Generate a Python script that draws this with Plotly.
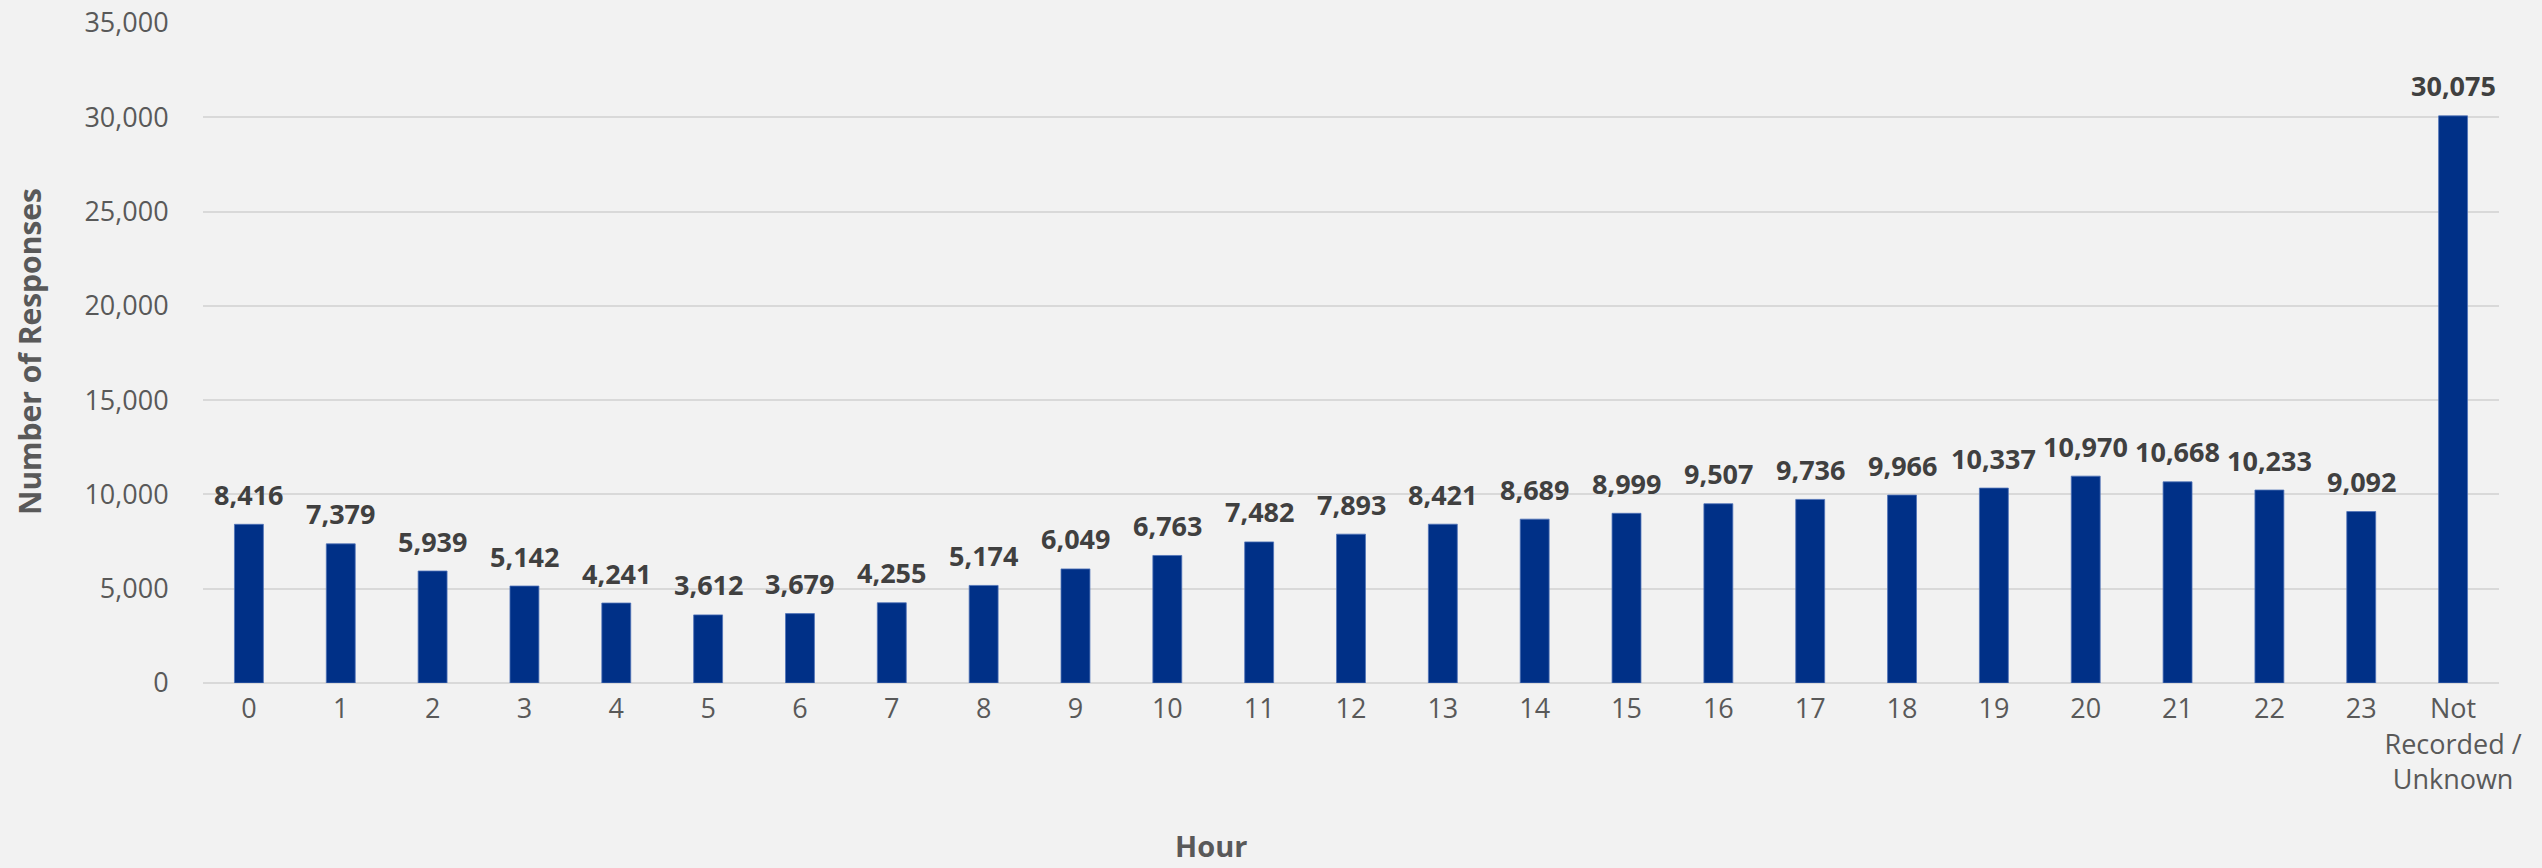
import plotly.graph_objects as go

# Hourly response counts
hours = [str(h) for h in range(24)] + ["Not<br>Recorded /<br>Unknown"]
responses = [8416, 7379, 5939, 5142, 4241, 3612, 3679, 4255, 5174, 6049,
             6763, 7482, 7893, 8421, 8689, 8999, 9507, 9736, 9966, 10337,
             10970, 10668, 10233, 9092, 30075]
y_ticks = [0, 5000, 10000, 15000, 20000, 25000, 30000, 35000]

W, H = 2542, 868
ML, MR, MT, MB = 203, 43, 23, 185
FONT = "Open Sans"
BAR = "#003087"
BG = "#f2f2f2"

fig = go.Figure(go.Bar(
    x=hours,
    y=responses,
    marker=dict(color=BAR, line=dict(color="#4f72b8", width=0.8)),
    hoverinfo="skip",
))

# Value labels above each bar
for cat, val in zip(hours, responses):
    fig.add_annotation(
        x=cat, y=val, xref="x", yref="y",
        text=f"{val:,}", showarrow=False,
        xanchor="center", yanchor="middle", yshift=30,
        font=dict(family=FONT, size=27, color="#404040", weight="bold"),
    )

fig.update_layout(
    width=W, height=H,
    margin=dict(l=ML, r=MR, t=MT, b=MB, autoexpand=False),
    paper_bgcolor=BG, plot_bgcolor=BG,
    bargap=0.685,
    showlegend=False,
    font=dict(family=FONT, size=27, color="#595959"),
)

fig.update_xaxes(
    type="category",
    automargin=False,
    tickfont=dict(family=FONT, size=27, color="#595959"),
    showgrid=False,
    showline=False,
    ticks="outside", ticklen=2, tickcolor="rgba(0,0,0,0)",
)

fig.update_yaxes(
    range=[0, 35000],
    automargin=False,
    tickvals=y_ticks,
    tickformat=",",
    showgrid=True, gridcolor="#d9d9d9", gridwidth=1.5,
    zeroline=True, zerolinecolor="#d9d9d9", zerolinewidth=1.5,
    showline=False,
    ticks="outside", ticklen=28, tickcolor="rgba(0,0,0,0)",
    tickfont=dict(family=FONT, size=27, color="#595959"),
)

plot_w = W - ML - MR
plot_h = H - MT - MB

# Axis titles
fig.add_annotation(
    text="Number of Responses", textangle=-90,
    xref="paper", yref="paper",
    x=(29 - ML) / plot_w, y=(H - MB - 352) / plot_h,
    xanchor="center", yanchor="middle", showarrow=False,
    font=dict(family=FONT, size=30, color="#595959", weight="bold"),
)
fig.add_annotation(
    text="Hour",
    xref="paper", yref="paper",
    x=(1211 - ML) / plot_w, y=-(845 - (H - MB)) / plot_h,
    xanchor="center", yanchor="middle", showarrow=False,
    font=dict(family=FONT, size=29, color="#595959", weight="bold"),
)

fig.write_html("out.html")
